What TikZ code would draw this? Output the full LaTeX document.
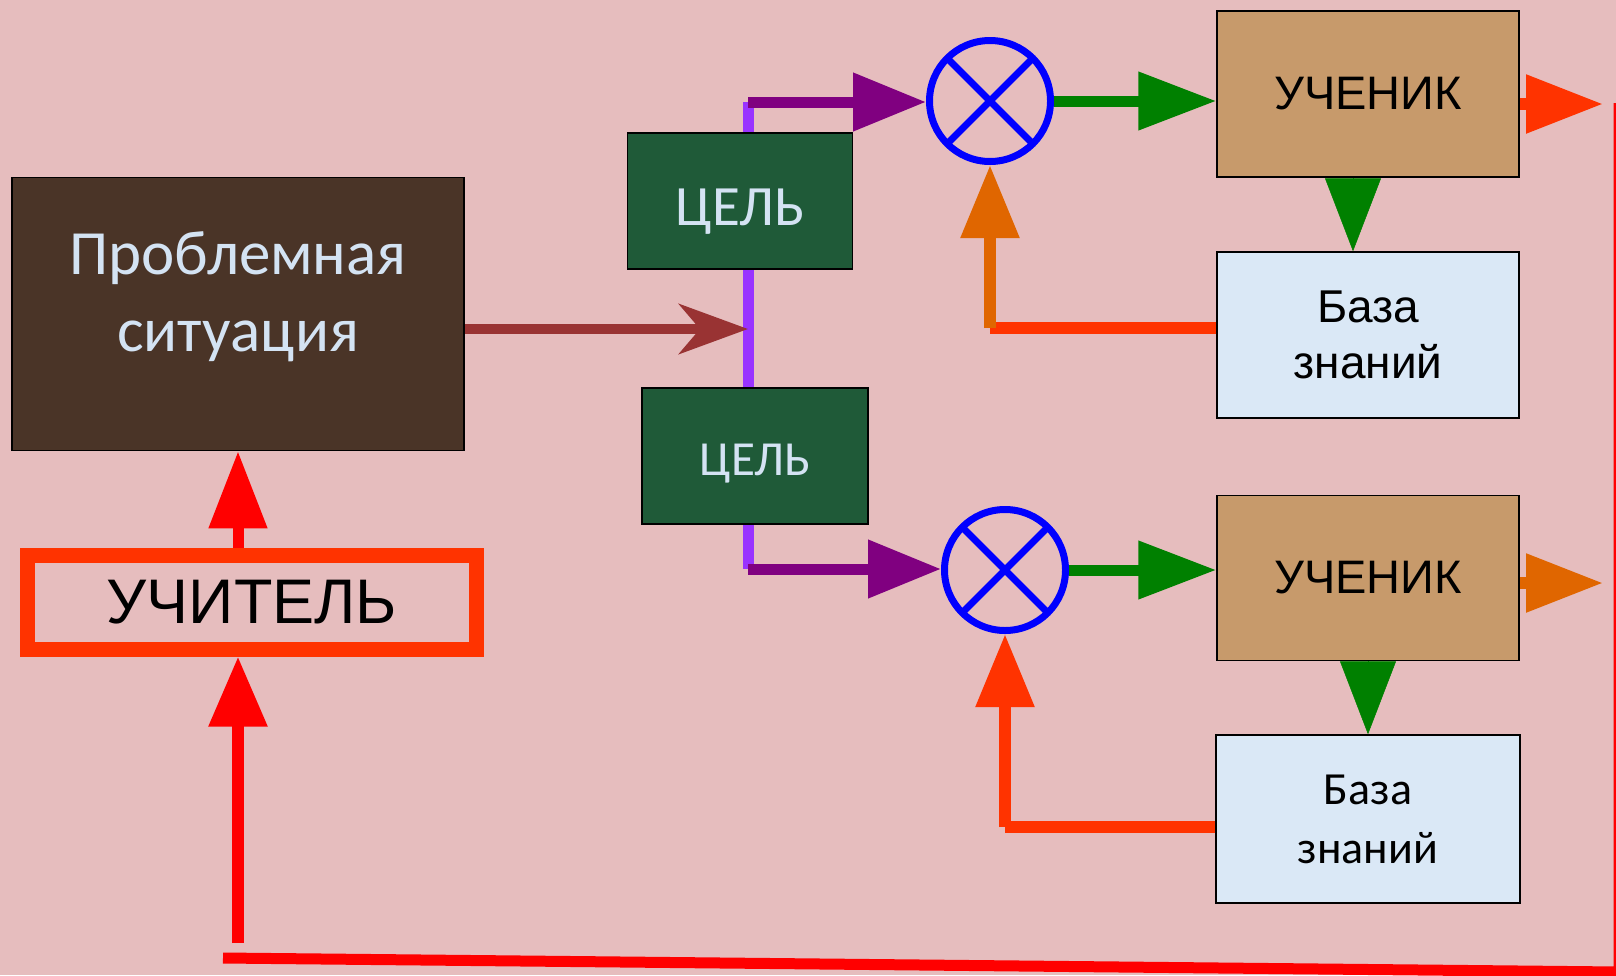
\documentclass[tikz,border=0pt]{standalone}
\usepackage{fontspec}
\setmainfont{Liberation Sans}
\newfontfamily\calibri{Carlito}
\usetikzlibrary{arrows.meta}

\definecolor{bgpink}{HTML}{E6BDBE}
\definecolor{wood}{HTML}{4A3427}
\definecolor{marble}{HTML}{1F5A38}
\definecolor{cork}{HTML}{C79A6B}
\definecolor{ice}{HTML}{DAE8F6}
\definecolor{paletext}{HTML}{D4E3F3}
\definecolor{lilac}{HTML}{9933FF}
\definecolor{plum}{HTML}{800080}
\definecolor{rust}{HTML}{993333}
\definecolor{leaf}{HTML}{008000}
\definecolor{amber}{HTML}{E06600}
\definecolor{flame}{HTML}{FF3300}

\begin{document}
\begin{tikzpicture}[x=1pt, y=-1pt]

  \tikzset{BoxStyle/.style = {
  shape = rectangle,
  draw = black,
  line width = 1.5pt,
  inner sep = 0pt,
  align = center}}
  \tikzset{MultStyle/.style = {
  shape = circle,
  draw = blue,
  line width = 7pt,
  inner sep = 0pt,
  minimum size = 121pt}}
  \tikzset{BigTip/.style = {-{Triangle[length=#1, width=56pt]}}}

  \useasboundingbox (0,0) rectangle (1616,975);
  \fill[bgpink] (0,0) rectangle (1616,975);

  % goal line behind the goal boxes
  \coordinate (Ptop) at (748,102);
  \coordinate (Pmid) at (748,329);
  \coordinate (Pbot) at (748,569);
  \draw[lilac, line width=11pt] (Ptop) -- (Pbot);

  \node[BoxStyle, fill=wood, minimum width=452pt, minimum height=273pt,
    label={[text=paletext, align=center, yshift=17pt,
    font=\calibri\fontsize{63}{77}\selectfont]center:Проблемная\\ситуация}]
    (P) at (238,314) {};
  \node[draw=flame, line width=15pt, inner sep=0pt, minimum width=449pt,
    minimum height=94pt, font=\fontsize{63}{70}\selectfont] (T) at (252,602) {УЧИТЕЛЬ};

  \node[BoxStyle, fill=marble, minimum width=225pt, minimum height=136pt,
    label={[text=paletext, yshift=-11pt,
    font=\calibri\fontsize{57}{64}\selectfont]center:ЦЕЛЬ}] (G1) at (740,201) {};
  \node[BoxStyle, fill=marble, minimum width=226pt, minimum height=136pt,
    label={[text=paletext, yshift=-8pt,
    font=\calibri\fontsize{49}{56}\selectfont]center:ЦЕЛЬ}] (G2) at (755,456) {};

  % upper branch
  \begin{scope}
    \node[MultStyle] (M1) at (990,101) {};
    \draw[blue, line width=7pt, shorten <=3.5pt, shorten >=3.5pt]
      (M1.north west) -- (M1.south east);
    \draw[blue, line width=7pt, shorten <=3.5pt, shorten >=3.5pt]
      (M1.north east) -- (M1.south west);
    \node[BoxStyle, fill=cork, minimum width=302pt, minimum height=166pt,
      font=\fontsize{47}{56}\selectfont] (S1) at (1368,94) {УЧЕНИК};
    \node[BoxStyle, fill=ice, minimum width=302pt, minimum height=166pt,
      font=\fontsize{46}{56}\selectfont] (K1) at (1368,335) {База\\знаний};
    \coordinate (C1) at (990,328);
    \coordinate (E1) at (1603,104);
    \draw[plum, line width=11pt, BigTip=73pt] (Ptop) -- (Ptop -| M1.west);
    \draw[leaf, line width=11pt, BigTip=78pt] (M1.east) -- (S1.west |- M1.east);
    \draw[flame, line width=12pt] (K1.west |- C1) -- (C1);
    \draw[amber, line width=12pt, BigTip=73pt] (C1) -- (M1.south);
    \draw[flame, line width=12pt, BigTip=77pt] (S1.east |- E1) -- (E1);
    \draw[leaf, line width=0.5pt, BigTip=73pt]
      ([xshift=-15pt]S1.south) -- ([xshift=-15pt]K1.north);
  \end{scope};

  % lower branch
  \begin{scope}
    \node[MultStyle] (M2) at (1005,570) {};
    \draw[blue, line width=7pt, shorten <=3.5pt, shorten >=3.5pt]
      (M2.north west) -- (M2.south east);
    \draw[blue, line width=7pt, shorten <=3.5pt, shorten >=3.5pt]
      (M2.north east) -- (M2.south west);
    \node[BoxStyle, fill=cork, minimum width=302pt, minimum height=165pt,
      font=\fontsize{47}{56}\selectfont] (S2) at (1368,578) {УЧЕНИК};
    \node[BoxStyle, fill=ice, minimum width=304pt, minimum height=168pt,
      font=\calibri\fontsize{46}{59}\selectfont] (K2) at (1368,819) {База\\знаний};
    \coordinate (C2) at (1005,827);
    \coordinate (E2) at (1603,583);
    \draw[plum, line width=11pt, BigTip=73pt] (Pbot) -- (Pbot -| M2.west);
    \draw[leaf, line width=11pt, BigTip=78pt] (M2.east) -- (S2.west |- M2.east);
    \draw[flame, line width=12pt] (K2.west |- C2) -- (C2);
    \draw[flame, line width=12pt, BigTip=73pt] (C2) -- (M2.south);
    \draw[amber, line width=12pt, BigTip=77pt] (S2.east |- E2) -- (E2);
    \draw[leaf, line width=0.5pt, BigTip=73pt] (S2.south) -- (K2.north);
  \end{scope};

  % situation to goals
  \draw[rust, line width=10pt, -{Stealth[length=69pt, width=50pt, inset=21pt]}]
    (P.east |- Pmid) -- (Pmid);

  % feedback to the teacher
  \coordinate (R1) at (1619,103);
  \coordinate (R2) at (1619,972);
  \coordinate (R3) at (223,958);
  \coordinate (R4) at (238,943);
  \draw[red, line width=11pt] (R1) -- (R2) -- (R3);
  \draw[red, line width=12pt, BigTip=70pt] (R4) -- (R4 |- T.south);
  \draw[red, line width=11pt, BigTip=77pt] (R4 |- T.north) -- (R4 |- P.south);
\end{tikzpicture}
\end{document}
